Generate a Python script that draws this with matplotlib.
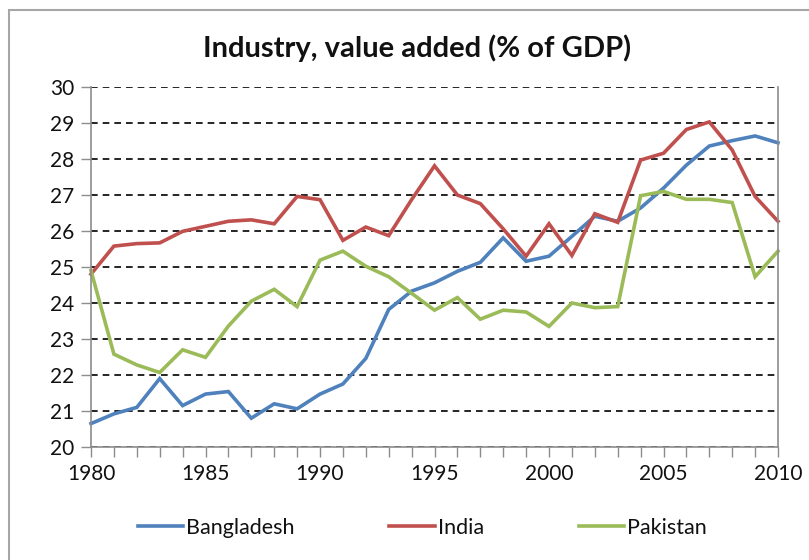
import matplotlib
matplotlib.use('Agg')
import matplotlib.pyplot as plt
from matplotlib.patches import Rectangle
'''
Industry, value added (% of GDP) for Bangladesh, India and Pakistan,
1980-2010. Values read off the reference chart.
'''

years = list(range(1980, 2011))

bangladesh = [20.65, 20.92, 21.10, 21.90, 21.15, 21.47, 21.54, 20.80, 21.20, 21.06,
              21.47, 21.75, 22.46, 23.82, 24.33, 24.56, 24.88, 25.13, 25.81, 25.16,
              25.30, 25.85, 26.41, 26.27, 26.64, 27.19, 27.83, 28.36, 28.51, 28.64,
              28.45]
india = [24.80, 25.58, 25.65, 25.67, 25.99, 26.13, 26.27, 26.31, 26.20, 26.96,
         26.87, 25.74, 26.11, 25.87, 26.87, 27.81, 27.00, 26.76, 26.06, 25.30,
         26.20, 25.32, 26.48, 26.24, 27.97, 28.16, 28.82, 29.03, 28.25, 26.96,
         26.27]
pakistan = [24.90, 22.58, 22.28, 22.07, 22.70, 22.49, 23.36, 24.05, 24.38, 23.90,
            25.19, 25.44, 25.02, 24.73, 24.27, 23.80, 24.15, 23.55, 23.80, 23.75,
            23.35, 24.00, 23.87, 23.90, 26.98, 27.10, 26.88, 26.88, 26.79, 24.73,
            25.44]

series_names = ['Bangladesh', 'India', 'Pakistan']
series_colors = ['#4F81BD', '#C0504D', '#9BBB59']
x_labels = [1980, 1985, 1990, 1995, 2000, 2005, 2010]
y_labels = list(range(20, 31))

FONT = 'Lato'
AXIS_GREY = '#8c8c8c'


def style_axes(ax):
    '''
    Excel-like axes: grey spines, black dashed horizontal gridlines
    '''
    ax.set_xlim(1980, 2010)
    ax.set_ylim(20, 30)
    ax.set_xticks(years)
    ax.set_xticklabels([str(y) if y in x_labels else '' for y in years])
    ax.set_yticks(y_labels)
    ax.tick_params(axis='both', direction='out', length=7, width=1,
                   color=AXIS_GREY, labelsize=15, pad=5)
    for lab in ax.get_xticklabels() + ax.get_yticklabels():
        lab.set_fontfamily(FONT)
        lab.set_color('#111111')
    ax.spines['top'].set_visible(False)
    for side in ['left', 'right', 'bottom']:
        ax.spines[side].set_color(AXIS_GREY)
        ax.spines[side].set_linewidth(1.2)
    ax.yaxis.grid(True, color='black', linestyle=(0, (4, 3)), linewidth=1.2)
    ax.set_axisbelow(True)


def main():
    fig = plt.figure(figsize=(8.09, 5.60), dpi=100)
    # grey chart-area border, running off the right and bottom edges
    fig.patches.append(Rectangle((9 / 809, -0.1), 1.2, 1.1 - 10 / 560,
                                 transform=fig.transFigure, fill=False,
                                 edgecolor='#a6a6a6', linewidth=1.5))
    ax = fig.add_axes([91 / 809, 1 - 447 / 560, (778 - 91) / 809, (447 - 87) / 560])

    for name, vals, col in zip(series_names, [bangladesh, india, pakistan], series_colors):
        ax.plot(years, vals, color=col, linewidth=2.6, label=name,
                solid_joinstyle='miter', clip_on=False)

    style_axes(ax)

    fig.text(0.515, 0.914, 'Industry, value added (% of GDP)', ha='center', va='center',
             fontsize=21, fontfamily=FONT, fontweight='bold', color='#111111')

    fig.legend(loc='center', bbox_to_anchor=(0.522, 1 - 528 / 560), ncol=3, frameon=False,
               prop={'family': FONT, 'size': 15.5}, handlelength=2.1,
               handletextpad=0.15, columnspacing=4.4, labelcolor='#111111')

    fig.savefig('out.png', dpi=100)


if __name__ == '__main__':
    main()
